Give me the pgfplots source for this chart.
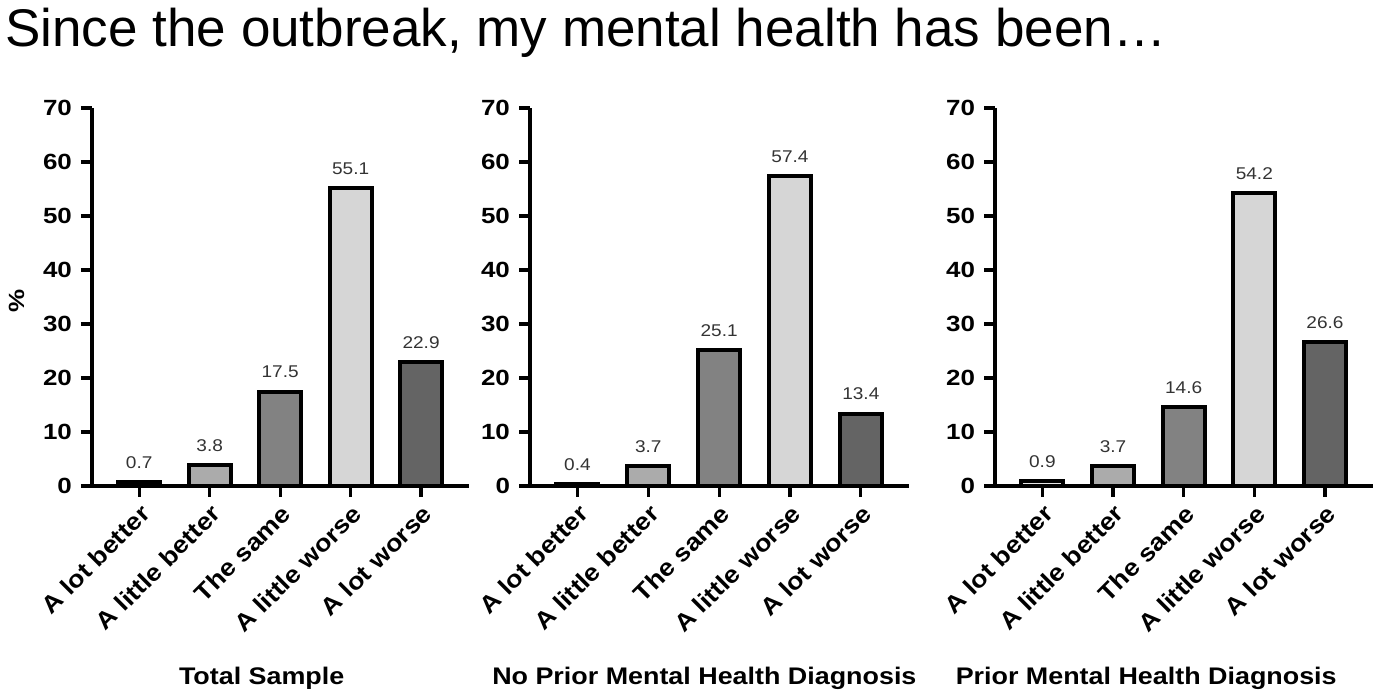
\documentclass[border=0pt]{standalone}
\usepackage{pgfplots}
\pgfplotsset{compat=1.18}
\usepackage{fontspec}
\setmainfont{Liberation Sans}
\newfontfamily\wideA[FakeStretch=1.12]{Liberation Sans}
\newfontfamily\wideB[FakeStretch=1.18]{Liberation Sans}
\newfontfamily\wideC[FakeStretch=1.12]{Liberation Sans}
\definecolor{cA}{HTML}{E6E6E6}
\definecolor{cB}{HTML}{ABABAB}
\definecolor{cC}{HTML}{828282}
\definecolor{cD}{HTML}{D6D6D6}
\definecolor{cE}{HTML}{646464}
\definecolor{vtxt}{HTML}{333333}
\pgfplotsset{
  b/.style={fill=#1, draw=black, line width=2pt, bar shift=0pt},
  panel/.style={
    scale only axis, height=189pt,
    ybar, clip=false,
    axis x line*=bottom, axis y line*=left,
    axis line style={line width=2pt, black},
    ymin=0, ymax=70, ytick={0,10,...,70},
    xmin=-0.67, xmax=4.68,
    xtick={0,1,2,3,4},
    xticklabels={A lot better,A little better,The same,A little worse,A lot worse},
    tick align=outside,
    major tick length=5.5pt,
    tick style={line width=1.6pt, black},
    /pgf/number format/assume math mode=true,
    yticklabel style={font=\wideB\fontsize{11}{12}\selectfont\bfseries, xshift=-1pt},
    xticklabel style={font=\wideA\fontsize{12}{13}\selectfont\bfseries, rotate=45, anchor=north east, inner sep=2pt},
    xlabel style={font=\wideA\fontsize{12}{13}\selectfont\bfseries, anchor=center, yshift=-96pt},
    ylabel style={font=\wideB\fontsize{11}{12}\selectfont\bfseries, anchor=center},
    nodes near coords={\pgfmathprintnumber[fixed,fixed zerofill,precision=1,assume math mode=true]{\pgfplotspointmeta}},
    every node near coord/.append style={font=\wideC\fontsize{8.5}{9}\selectfont, text=vtxt, anchor=south, yshift=2.5pt},
  }
}
\begin{document}
\begin{tikzpicture}
\path[use as bounding box] (0,0) rectangle (689.5pt,350pt);
\node[anchor=base west, inner sep=0pt, font=\fontsize{26.5}{30}\selectfont] at (2.5pt,326.5pt) {Since the outbreak, my mental health has been…};

\begin{axis}[panel, at={(46pt,107pt)}, anchor=south west, width=188.5pt, bar width=21pt,
  xlabel={Total Sample}, xlabel style={at={(axis description cs:0.45,0)}},
  ylabel={\%}, ylabel style={at={(axis description cs:-0.2,0.49)}}]
\addplot[b=cA] coordinates {(0,0.7)};
\addplot[b=cB] coordinates {(1,3.8)};
\addplot[b=cC] coordinates {(2,17.5)};
\addplot[b=cD] coordinates {(3,55.1)};
\addplot[b=cE] coordinates {(4,22.9)};
\end{axis}

\begin{axis}[panel, at={(265pt,107pt)}, anchor=south west, width=189.5pt, bar width=21pt,
  xlabel={No Prior Mental Health Diagnosis}, xlabel style={at={(axis description cs:0.46,0)}}]
\addplot[b=cA] coordinates {(0,0.4)};
\addplot[b=cB] coordinates {(1,3.7)};
\addplot[b=cC] coordinates {(2,25.1)};
\addplot[b=cD] coordinates {(3,57.4)};
\addplot[b=cE] coordinates {(4,13.4)};
\end{axis}

\begin{axis}[panel, at={(497.5pt,107pt)}, anchor=south west, width=189pt, bar width=21pt,
  xlabel={Prior Mental Health Diagnosis}, xlabel style={at={(axis description cs:0.40,0)}}]
\addplot[b=cA] coordinates {(0,0.9)};
\addplot[b=cB] coordinates {(1,3.7)};
\addplot[b=cC] coordinates {(2,14.6)};
\addplot[b=cD] coordinates {(3,54.2)};
\addplot[b=cE] coordinates {(4,26.6)};
\end{axis}
\end{tikzpicture}
\end{document}
